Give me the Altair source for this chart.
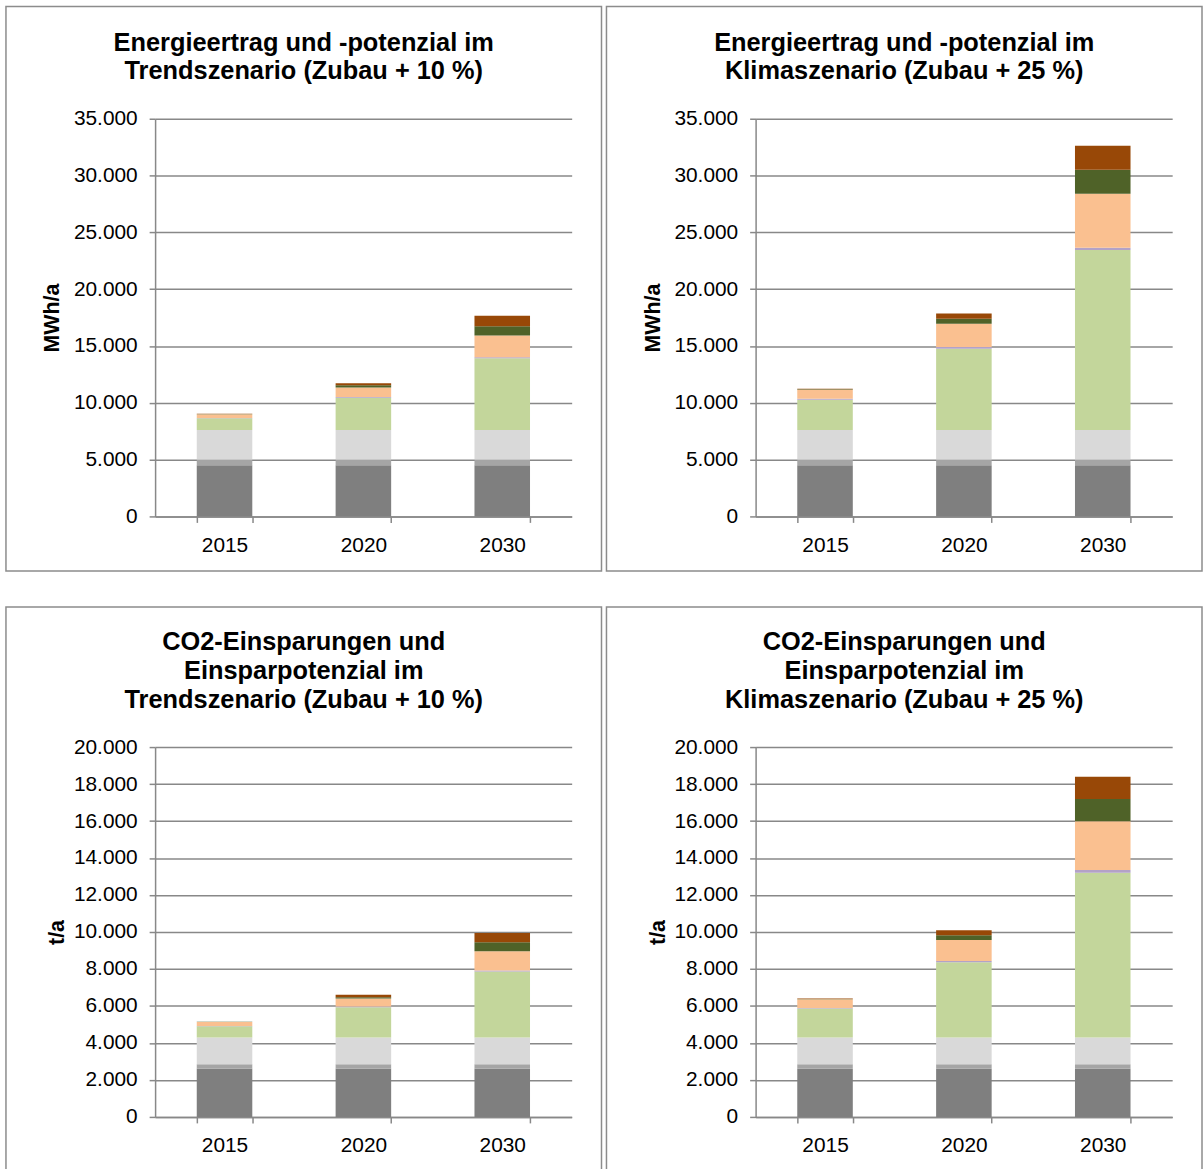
import altair as alt
import pandas as pd

years = ["2015", "2020", "2030"]
segments = ["Kategorie 1", "Kategorie 2", "Kategorie 3", "Kategorie 4",
            "Kategorie 5", "Kategorie 6", "Kategorie 7", "Kategorie 8"]
colors = ["#7F7F7F", "#A5A5A5", "#D9D9D9", "#C3D69B",
          "#B3A2C7", "#FAC090", "#4F6228", "#984807"]

# segment values per year (bottom to top), MWh/a
energy_trend = {
    "2015": [4500, 500, 2600, 1050, 20, 330, 10, 20],
    "2020": [4500, 500, 2600, 2850, 50, 850, 200, 170],
    "2030": [4500, 500, 2600, 6310, 90, 1920, 820, 930],
}
energy_klima = {
    "2015": [4500, 500, 2600, 2670, 80, 790, 60, 30],
    "2020": [4500, 500, 2600, 7160, 140, 2050, 440, 460],
    "2030": [4500, 500, 2600, 15850, 200, 4750, 2100, 2130],
}
# t/a
co2_trend = {
    "2015": [2600, 250, 1450, 600, 20, 210, 10, 10],
    "2020": [2600, 250, 1450, 1630, 40, 430, 70, 140],
    "2030": [2600, 250, 1450, 3570, 50, 1040, 490, 500],
}
co2_klima = {
    "2015": [2600, 250, 1450, 1560, 30, 470, 20, 20],
    "2020": [2600, 250, 1450, 4070, 60, 1140, 250, 270],
    "2030": [2600, 250, 1450, 8910, 140, 2640, 1200, 1210],
}

titles = [
    ["Energieertrag und -potenzial im", "Trendszenario (Zubau + 10 %)"],
    ["Energieertrag und -potenzial im", "Klimaszenario (Zubau + 25 %)"],
    ["CO2-Einsparungen und", "Einsparpotenzial im", "Trendszenario (Zubau + 10 %)"],
    ["CO2-Einsparungen und", "Einsparpotenzial im", "Klimaszenario (Zubau + 25 %)"],
]

W = 419
FONT = "Liberation Sans"
GRID = "#888888"


def to_df(d):
    rows = []
    for y in years:
        for si, s in enumerate(segments):
            rows.append({"year": y, "seg": s, "idx": si, "value": d[y][si]})
    return pd.DataFrame(rows)


def panel(d, title, ytitle, ymax, ystep, height, box, title_ys, ytitle_x):
    df = to_df(d)
    bars = alt.Chart(df).mark_bar().encode(
        x=alt.X(
            "year:N",
            sort=years,
            scale=alt.Scale(paddingInner=0.6, paddingOuter=0.3),
            axis=alt.Axis(
                tickBand="extent",
                labelAngle=0,
                grid=False,
                title=None,
                tickSize=6,
                labelPadding=12,
            ),
        ),
        y=alt.Y(
            "value:Q",
            stack="zero",
            scale=alt.Scale(domain=[0, ymax], nice=False),
            axis=alt.Axis(
                values=list(range(0, ymax + 1, ystep)),
                labelExpr="replace(format(datum.value, ','), ',', '.')",
                labelFlush=False,
                labelOverlap=False,
                title=ytitle,
                titleFontWeight="bold",
                titleFontSize=21.5,
                titleX=ytitle_x,
                titleY=height / 2,
                titleAlign="center",
                titleBaseline="middle",
                grid=True,
                tickSize=6,
                labelPadding=12,
            ),
        ),
        color=alt.Color("seg:N", scale=alt.Scale(domain=segments, range=colors), legend=None),
        order=alt.Order("idx:Q", sort="ascending"),
    )
    one = pd.DataFrame({"b": [0]})
    border = alt.Chart(one).mark_rect(
        fillOpacity=0, stroke="#8C8C8C", strokeWidth=1.5
    ).encode(
        x=alt.value(box[0]), x2=alt.value(box[1]),
        y=alt.value(box[2]), y2=alt.value(box[3]),
    )
    cx = (box[0] + box[1]) / 2
    title_layers = [
        alt.Chart(one).mark_text(
            font=FONT, fontSize=25.5, fontWeight="bold", color="black",
            align="center", baseline="middle",
        ).encode(x=alt.value(cx), y=alt.value(ty), text=alt.value(line))
        for line, ty in zip(title, title_ys)
    ]
    return alt.layer(border, bars, *title_layers).properties(width=W, height=height)


top_box = [-150, 449, -113, 455]
bot_box = [-150, 449, -141, 427]
top_title_y = [-76, -48]
bot_title_y = [-106, -76, -47]

p1 = panel(energy_trend, titles[0], "MWh/a", 35000, 5000, 400, top_box, top_title_y, -103)
p2 = panel(energy_klima, titles[1], "MWh/a", 35000, 5000, 400, top_box, top_title_y, -103)
p3 = panel(co2_trend, titles[2], "t/a", 20000, 2000, 372, bot_box, bot_title_y, -98)
p4 = panel(co2_klima, titles[3], "t/a", 20000, 2000, 372, bot_box, bot_title_y, -98)

chart = alt.concat(
    p1, p2, p3, p4, columns=2, spacing={"row": 232, "column": 185}, bounds="flush"
).properties(
    padding={"left": 5, "top": 2, "right": 0, "bottom": 0},
    background="white",
).configure_view(strokeWidth=0).configure_axis(
    labelFont=FONT,
    labelFontSize=21,
    labelColor="black",
    titleFont=FONT,
    titleColor="black",
    domainColor=GRID,
    domainWidth=1.5,
    tickColor=GRID,
    tickWidth=1.5,
    gridColor=GRID,
    gridWidth=1.5,
)

chart.save("out.html", embed_options={"renderer": "svg", "actions": False})
